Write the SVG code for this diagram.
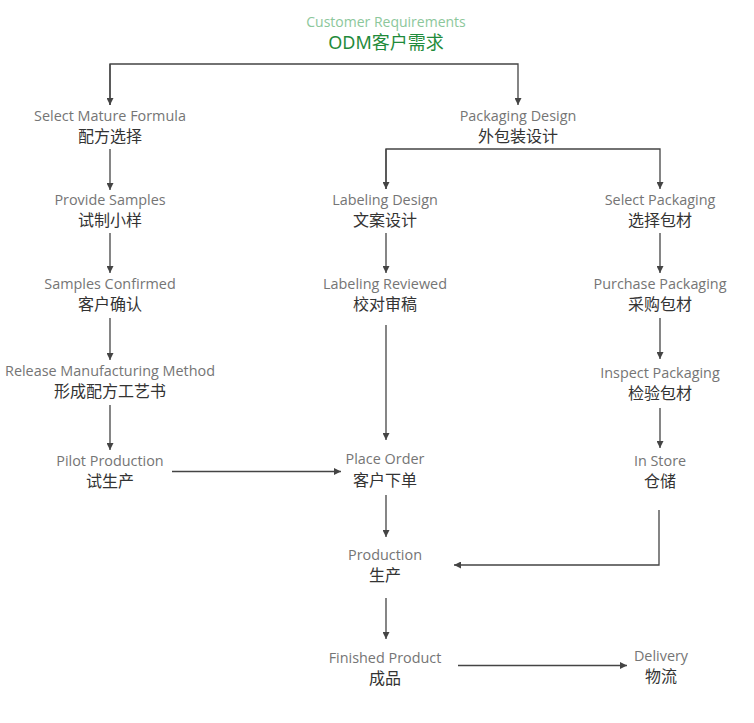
<svg xmlns="http://www.w3.org/2000/svg" width="754" height="723" viewBox="0 0 754 723">
<style>
.en{font-family:"Open Sans","Noto Sans","Liberation Sans",sans-serif;font-size:14.4px;fill:#757575;text-anchor:middle}
.zh{font-family:"Noto Sans CJK SC",sans-serif;font-size:16px;fill:#333;text-anchor:middle}
.ln{fill:none;stroke:#444;stroke-width:1.3}
</style>
<defs>
<marker id="ah" viewBox="0 0 10 10" refX="10" refY="5" markerWidth="7" markerHeight="7" markerUnits="userSpaceOnUse" orient="auto"><path d="M0,0 L10,5 L0,10 z" fill="#444"/></marker>
</defs>
<rect width="754" height="723" fill="#fff"/>
<g id="customer">
<text x="386" y="27" class="en" style="fill:#8cc79b;font-size:14px">Customer Requirements</text>
<text x="386" y="49" style="font-family:'Noto Sans','Noto Sans CJK SC',sans-serif;font-size:18px;fill:#1f8b3b;text-anchor:middle">ODM客户需求</text>
</g>
<g id="formula"><text x="110" y="121" class="en">Select Mature Formula</text><text x="110" y="142" class="zh">配方选择</text></g>
<g id="samples"><text x="110" y="205" class="en">Provide Samples</text><text x="110" y="226" class="zh">试制小样</text></g>
<g id="confirmed"><text x="110" y="289" class="en">Samples Confirmed</text><text x="110" y="310" class="zh">客户确认</text></g>
<g id="method"><text x="110" y="376" class="en">Release Manufacturing Method</text><text x="110" y="397" class="zh">形成配方工艺书</text></g>
<g id="pilot"><text x="110" y="466" class="en">Pilot Production</text><text x="110" y="487" class="zh">试生产</text></g>
<g id="packaging"><text x="518" y="121" class="en">Packaging Design</text><text x="518" y="142" class="zh">外包装设计</text></g>
<g id="labeling"><text x="385" y="205" class="en">Labeling Design</text><text x="385" y="226" class="zh">文案设计</text></g>
<g id="reviewed"><text x="385" y="289" class="en">Labeling Reviewed</text><text x="385" y="310" class="zh">校对审稿</text></g>
<g id="order"><text x="385" y="464" class="en">Place Order</text><text x="385" y="486" class="zh">客户下单</text></g>
<g id="production"><text x="385" y="560" class="en">Production</text><text x="385" y="581" class="zh">生产</text></g>
<g id="finished"><text x="385" y="663" class="en">Finished Product</text><text x="385" y="684" class="zh">成品</text></g>
<g id="select"><text x="660" y="205" class="en">Select Packaging</text><text x="660" y="226" class="zh">选择包材</text></g>
<g id="purchase"><text x="660" y="289" class="en">Purchase Packaging</text><text x="660" y="310" class="zh">采购包材</text></g>
<g id="inspect"><text x="660" y="378" class="en">Inspect Packaging</text><text x="660" y="399" class="zh">检验包材</text></g>
<g id="store"><text x="660" y="466" class="en">In Store</text><text x="660" y="487" class="zh">仓储</text></g>
<g id="delivery"><text x="661" y="661" class="en">Delivery</text><text x="661" y="682" class="zh">物流</text></g>
<g id="connectors">
<path class="ln" d="M110,105 V64 H518 V105" marker-end="url(#ah)"/>
<path class="ln" d="M110,64 V105" marker-end="url(#ah)"/>
<path class="ln" d="M110,149 V190" marker-end="url(#ah)"/>
<path class="ln" d="M110,233 V273" marker-end="url(#ah)"/>
<path class="ln" d="M110,318 V360" marker-end="url(#ah)"/>
<path class="ln" d="M110,405 V450" marker-end="url(#ah)"/>
<path class="ln" d="M172,471.5 H341" marker-end="url(#ah)"/>
<path class="ln" d="M386,189 V149 H660 V189" marker-end="url(#ah)"/>
<path class="ln" d="M386,149 V189" marker-end="url(#ah)"/>
<path class="ln" d="M386,233 V273" marker-end="url(#ah)"/>
<path class="ln" d="M386,325 V440" marker-end="url(#ah)"/>
<path class="ln" d="M660,233 V273" marker-end="url(#ah)"/>
<path class="ln" d="M660,318 V359" marker-end="url(#ah)"/>
<path class="ln" d="M660,408 V448" marker-end="url(#ah)"/>
<path class="ln" d="M659,510 V565 H454" marker-end="url(#ah)"/>
<path class="ln" d="M386,495 V537" marker-end="url(#ah)"/>
<path class="ln" d="M386,598 V639" marker-end="url(#ah)"/>
<path class="ln" d="M458,665.5 H627" marker-end="url(#ah)"/>
</g>
</svg>
